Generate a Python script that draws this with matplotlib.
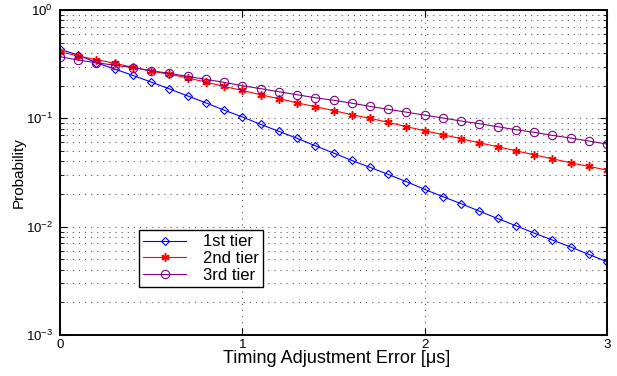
import numpy as np
import matplotlib
matplotlib.use("Agg")
import matplotlib.pyplot as plt
from matplotlib.ticker import LogLocator, NullFormatter, FixedLocator

plt.rcParams['font.family'] = ['Liberation Sans', 'DejaVu Sans']
plt.rcParams['mathtext.fontset'] = 'custom'
plt.rcParams['mathtext.rm'] = 'Liberation Sans'

x = [round(0.1 * i, 1) for i in range(31)]
tier1 = [0.433, 0.384, 0.326, 0.285, 0.249, 0.216, 0.187, 0.161, 0.139, 0.119,
         0.103, 0.088, 0.0759, 0.0654, 0.0558, 0.0479, 0.0409, 0.0353, 0.0304, 0.026,
         0.0221, 0.0189, 0.0163, 0.0139, 0.0119, 0.0102, 0.00873, 0.00753, 0.00649, 0.00555,
         0.00474]
tier2 = [0.412, 0.376, 0.348, 0.322, 0.296, 0.273, 0.255, 0.236, 0.216, 0.197,
         0.181, 0.165, 0.152, 0.139, 0.128, 0.118, 0.108, 0.100, 0.0919, 0.0837,
         0.0769, 0.0706, 0.0648, 0.0595, 0.0547, 0.0502, 0.0461, 0.0423, 0.0389, 0.036,
         0.0333]
tier3 = [0.371, 0.345, 0.326, 0.309, 0.294, 0.275, 0.260, 0.244, 0.229, 0.215,
         0.200, 0.188, 0.176, 0.165, 0.155, 0.147, 0.138, 0.129, 0.121, 0.114,
         0.107, 0.1007, 0.0944, 0.0892, 0.0837, 0.0785, 0.0743, 0.0697, 0.0658, 0.0617,
         0.0579]
labels = ['1st tier', '2nd tier', '3rd tier']
xticks = [0, 1, 2, 3]

fig = plt.figure(figsize=(6.17, 3.76), dpi=100)
ax = fig.add_axes([60/617, 1 - 335/376, 547/617, 325/376])

ax.plot(x, tier1, color='#0000ff', marker='D', markersize=4.5, mfc='none', mew=0.8, lw=0.8, label=labels[0])
ax.plot(x, tier2, color='#ff0000', marker=(6, 2, 0), markersize=6, mew=1.1, lw=0.8, label=labels[1])
ax.plot(x, tier3, color='#800080', marker='o', markersize=6, mfc='none', mew=0.8, lw=0.8, label=labels[2])

ax.set_yscale('log')
ax.set_xlim(0, 3)
ax.set_ylim(1e-3, 1)
ax.xaxis.set_major_locator(FixedLocator(xticks))
ax.yaxis.set_major_locator(LogLocator(base=10, numticks=10))
ax.yaxis.set_minor_locator(LogLocator(base=10, subs=np.arange(2, 10), numticks=10))
ax.yaxis.set_minor_formatter(NullFormatter())

gridkw = dict(linestyle=(0, (1, 4.5)), color='#555555', lw=0.8)
ax.grid(True, which='major', axis='both', **gridkw)
ax.grid(True, which='minor', axis='y', **gridkw)

ax.tick_params(which='both', direction='in', top=True, right=True, labelsize=9.5)
ax.tick_params(axis='x', pad=3)
ax.tick_params(axis='y', pad=5)
ax.tick_params(which='major', length=5, width=0.8)
ax.tick_params(which='minor', length=3, width=0.6)
for s in ax.spines.values():
    s.set_linewidth(1.4)

ax.set_xlabel('Timing Adjustment Error [μs]', fontsize=13)
ax.set_ylabel('Probability', fontsize=11)
ax.xaxis.set_label_coords(0.505, -0.047)
ax.yaxis.set_label_coords(-0.062, 0.5)

leg = ax.legend(loc='lower left', bbox_to_anchor=(0.144, 0.148), fontsize=12,
                fancybox=False, edgecolor='black', framealpha=1,
                handlelength=2.6, borderpad=0.25, labelspacing=0.1, handletextpad=1.0,
                borderaxespad=0)
leg.get_frame().set_linewidth(1.0)

fig.savefig('out.png', dpi=100)
